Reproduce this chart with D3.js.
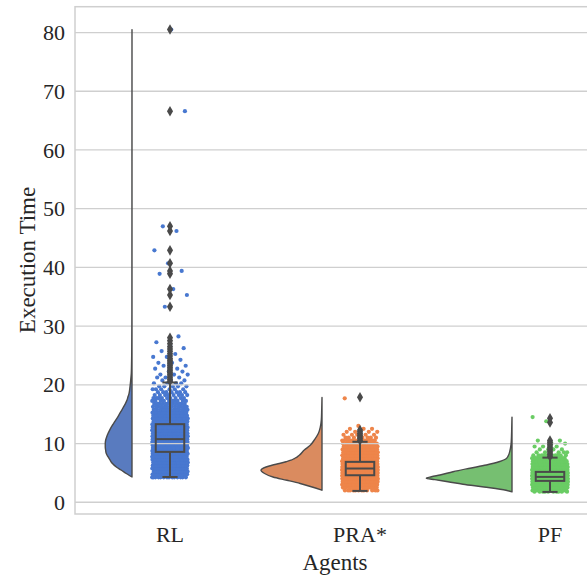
<!DOCTYPE html>
<html>
<head>
<meta charset="utf-8">
<script src="https://cdn.jsdelivr.net/npm/d3@7"></script>
<style>
body{margin:0;background:#fff;}
svg text{font-family:"Liberation Serif","Times New Roman",serif;fill:#262626;}
</style>
</head>
<body>
<svg id="grafico" width="587" height="575"></svg>
<script>
//dados
var agentes = ["RL", "PRA*", "PF"];
var ticksY = [0, 10, 20, 30, 40, 50, 60, 70, 80];

//perfil dos violinos: [valor, densidade relativa %]
var violinoRL = [[4.3,0],[4.6,3.5],[4.9,6.7],[5.5,12.8],[6.0,18.3],[6.6,22.8],[7.2,25.7],[7.8,28.2],[8.3,30.0],[8.9,30.8],[9.4,31.2],[10.0,31.2],[10.6,30.7],[11.1,29.6],[11.7,28.0],[12.2,26.3],[12.8,24.2],[13.4,21.6],[14.0,19.0],[14.5,16.7],[15.1,14.4],[15.7,11.9],[16.3,9.7],[16.8,7.7],[17.4,5.8],[18.0,4.6],[18.5,3.5],[19.1,2.8],[19.7,2.3],[20.8,1.5],[22.0,0.8],[23.0,0.6],[25.0,0.35],[28.0,0.23],[32.0,0.12],[40.0,0.09],[50.0,0.05],[66.0,0.04],[80.5,0]];
var violinoPRA = [[2.05,0],[2.6,11.5],[3.2,25.5],[3.75,41],[4.3,57.2],[4.9,67],[5.46,71.2],[6.0,65.3],[6.3,58.3],[6.6,49.8],[6.9,42],[7.16,36.2],[7.45,32.3],[7.7,29.2],[8.0,26.5],[8.9,20.7],[9.7,13.7],[10.6,9.0],[11.7,4.3],[12.8,2.0],[14.0,0.8],[15.7,0.35],[17.85,0]];
var violinoPF = [[1.76,0],[2.05,7],[2.6,32.7],[3.07,57.2],[3.5,74.7],[3.85,90],[4.1,100],[4.35,94],[4.65,84],[5.2,68.9],[5.8,49],[6.35,29.9],[6.9,15.2],[7.45,6.5],[8.0,4.1],[8.6,2.7],[9.76,1.2],[11.2,0.6],[12.5,0.35],[14.5,0]];

//boxplot
var caixaQ1 = [8.58, 4.6, 3.64];
var caixaMediana = [10.75, 5.75, 4.32];
var caixaQ3 = [13.3, 6.88, 5.17];
var bigodeMin = [4.3, 1.93, 1.76];
var bigodeMax = [20.4, 10.3, 7.6];

//outliers (losangos)
var outliersRL = [20.6,20.9,21.2,21.5,21.8,22.1,22.4,22.7,23.0,23.3,23.6,23.9,24.2,24.5,24.9,25.3,25.7,26.1,26.5,27.0,27.5,28.0,33.3,35.3,36.3,38.9,39.4,40.7,42.9,46.2,47.0,66.6,80.5];
var outliersPRA = [10.5,10.8,11.1,11.4,11.7,12.0,12.3,17.9];
var outliersPF = [7.8,8.1,8.4,8.7,9.0,9.3,9.6,9.9,10.2,10.5,13.6,14.3];

//pontos (strip): [valor, quantidade]
var pontosRL = [[4.25,14],[4.75,22],[5.25,28],[5.75,32],[6.25,36],[6.75,38],[7.25,40],[7.75,42],[8.25,44],[8.75,44],[9.25,44],[9.75,44],[10.25,44],[10.75,43],[11.25,42],[11.75,40],[12.25,38],[12.75,35],[13.25,32],[13.75,29],[14.25,26],[14.75,23],[15.25,20],[15.75,17],[16.25,14],[16.75,12],[17.25,10],[17.75,9],[18.25,8],[18.75,7],[19.25,6],[19.75,5],[20.25,4],[20.75,3],[21.25,3],[21.75,3],[22.25,2],[22.75,2],[23.25,2],[23.75,2],[24.25,1],[24.75,2],[25.25,1],[25.75,1],[26.25,1],[26.75,1],[27.25,1],[28.25,1],[33.3,1],[35.3,1],[36.3,1],[38.9,1],[39.4,1],[40.7,1],[42.9,1],[46.2,1],[47.0,1],[66.6,1],[80.5,1]];
var pontosPRA = [[2.0,12],[2.5,18],[3.0,34],[3.5,52],[4.0,70],[4.5,86],[5.0,96],[5.5,100],[6.0,92],[6.5,74],[7.0,56],[7.5,44],[8.0,37],[8.5,33],[9.0,28],[9.5,22],[10.0,16],[10.5,12],[11.0,8],[11.5,6],[12.0,4],[12.5,3],[13.0,1],[17.7,1]];
var pontosPF = [[1.8,10],[2.0,14],[2.5,40],[3.0,78],[3.5,106],[4.0,136],[4.5,128],[5.0,104],[5.5,84],[6.0,58],[6.5,36],[7.0,22],[7.5,14],[8.0,10],[8.5,6],[9.0,4],[9.5,3],[10.0,2],[10.5,2],[13.8,1],[14.5,1]];

var violinos = [violinoRL, violinoPRA, violinoPF];
var outliers = [outliersRL, outliersPRA, outliersPF];
var pontos = [pontosRL, pontosPRA, pontosPF];

var corViolino = ["#597bbf", "#da8b5f", "#76bf71"];
var corPonto = ["#4878d0", "#ee854a", "#6acc64"];
var corLinha = "#4a4a4a";
var corGrade = "#cfcfcf";

desenhaGrafico();

function desenhaGrafico(){
    var svg = d3.select("#grafico");
    var esq = 75, topo = 6.7, base = 514, dir = 595;

    // escalas
    var x = d3.scaleBand().domain(agentes).range([esq, 645]).padding(0);
    var passo = x.step();
    var centro = function(a){ return x(a) + passo/2; };
    var y = d3.scaleLinear().domain([-2.0, 84.4]).range([base, topo]);
    var larg = d3.scaleLinear().domain([0, 100]).range([0, 0.451*passo]);

    // pontos (ficam atras da grade)
    var gPontos = svg.append("g");
    agentes.forEach(function(a, i){
        var k = 0;
        pontos[i].forEach(function(p){
            for(var n=0;n<p[1];n++){
                var jit = ((k*0.6180339887 + i*0.37) % 1 - 0.5) * 2 * 0.094 * passo;
                gPontos.append("circle")
                    .attr("cx", centro(a) + jit)
                    .attr("cy", y(p[0]))
                    .attr("r", 2.1)
                    .style("fill", corPonto[i]);
                k++;
            }
        });
    });

    // grade horizontal
    svg.append("g").selectAll("line")
        .data(ticksY)
        .enter().append("line")
        .attr("x1", esq).attr("x2", dir)
        .attr("y1", function(d){ return y(d); })
        .attr("y2", function(d){ return y(d); })
        .style("stroke", corGrade)
        .style("stroke-width", 1.3);

    // moldura
    svg.append("rect")
        .attr("x", esq).attr("y", topo)
        .attr("width", dir-esq).attr("height", base-topo)
        .style("fill", "none")
        .style("stroke", corGrade)
        .style("stroke-width", 1.5);

    // meio violinos
    agentes.forEach(function(a, i){
        var plano = centro(a) - 0.2*passo;
        var area = d3.area()
            .curve(d3.curveMonotoneY)
            .y(function(d){ return y(d[0]); })
            .x0(plano)
            .x1(function(d){ return plano - larg(d[1]); });
        svg.append("path")
            .datum(violinos[i])
            .attr("d", area)
            .style("fill", corViolino[i])
            .style("stroke", corLinha)
            .style("stroke-width", 1.4)
            .style("stroke-linejoin", "round");
    });

    // boxplots
    var gCaixa = svg.append("g")
        .style("stroke", corLinha)
        .style("stroke-width", 2)
        .style("fill", "none");
    var meiaCaixa = 0.075*passo, meioTopo = 0.04*passo;
    agentes.forEach(function(a, i){
        var cx = centro(a);
        gCaixa.append("rect")
            .attr("x", cx-meiaCaixa).attr("width", 2*meiaCaixa)
            .attr("y", y(caixaQ3[i])).attr("height", y(caixaQ1[i]) - y(caixaQ3[i]));
        gCaixa.append("line")
            .attr("x1", cx-meiaCaixa).attr("x2", cx+meiaCaixa)
            .attr("y1", y(caixaMediana[i])).attr("y2", y(caixaMediana[i]));
        gCaixa.append("line")
            .attr("x1", cx).attr("x2", cx)
            .attr("y1", y(caixaQ1[i])).attr("y2", y(bigodeMin[i]));
        gCaixa.append("line")
            .attr("x1", cx).attr("x2", cx)
            .attr("y1", y(caixaQ3[i])).attr("y2", y(bigodeMax[i]));
        gCaixa.append("line")
            .attr("x1", cx-meioTopo).attr("x2", cx+meioTopo)
            .attr("y1", y(bigodeMin[i])).attr("y2", y(bigodeMin[i]));
        gCaixa.append("line")
            .attr("x1", cx-meioTopo).attr("x2", cx+meioTopo)
            .attr("y1", y(bigodeMax[i])).attr("y2", y(bigodeMax[i]));
        // outliers
        svg.append("g").selectAll("path")
            .data(outliers[i])
            .enter().append("path")
            .attr("d", d3.symbol().type(d3.symbolDiamond).size(32))
            .attr("transform", function(d){ return "translate(" + cx + "," + y(d) + ")"; })
            .style("fill", corLinha);
    });

    // eixo Y
    var eixoY = svg.append("g")
        .attr("transform", "translate(" + esq + ",0)")
        .call(d3.axisLeft(y).tickValues(ticksY).tickSize(0).tickPadding(10));
    eixoY.select(".domain").remove();
    eixoY.selectAll("text").style("font-size", "22px").style("font-family", null);

    // eixo X
    var eixoX = svg.append("g")
        .attr("transform", "translate(0," + base + ")")
        .call(d3.axisBottom(x).tickSize(0).tickPadding(12));
    eixoX.select(".domain").remove();
    eixoX.selectAll("text").style("font-size", "22px").style("font-family", null);

    // rotulos
    svg.append("text")
        .attr("transform", "translate(35,260) rotate(-90)")
        .attr("text-anchor", "middle")
        .style("font-size", "23px")
        .text("Execution Time");
    svg.append("text")
        .attr("x", 335).attr("y", 570)
        .attr("text-anchor", "middle")
        .style("font-size", "23px")
        .text("Agents");
}
</script>
</body>
</html>
